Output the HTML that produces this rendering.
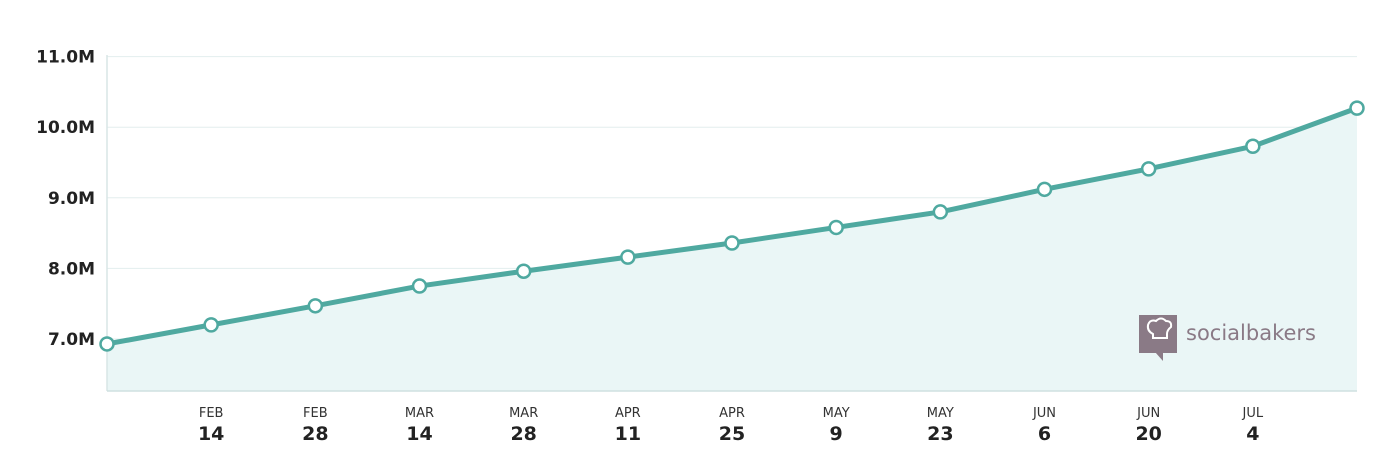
<!DOCTYPE html>
<html><head><meta charset="utf-8"><style>
body{margin:0;background:#fff;width:1400px;height:471px;overflow:hidden}
svg{display:block;font-family:"DejaVu Sans","Liberation Sans",sans-serif}
</style></head><body>
<svg id="chart" width="1400" height="471" viewBox="0 0 1400 471"></svg>
<script>
const values=[6.93,7.20,7.47,7.75,7.96,8.16,8.36,8.58,8.80,9.12,9.41,9.73,10.27];
const tickValues=[7,8,9,10,11];
const tickLabels=["7.0M","8.0M","9.0M","10.0M","11.0M"];
const monthLabels=["FEB","FEB","MAR","MAR","APR","APR","MAY","MAY","JUN","JUN","JUL"];
const dayLabels=["14","28","14","28","11","25","9","23","6","20","4"];
const NS="http://www.w3.org/2000/svg";
const svg=document.getElementById('chart');
const x0=107,x1=1357,bottom=391;
const xs=i=>x0+(x1-x0)*i/(values.length-1);
const ys=v=>339-(v-7)*70.6;
function mk(t,a,p){const e=document.createElementNS(NS,t);for(const k in a)e.setAttribute(k,a[k]);(p||svg).appendChild(e);return e;}
// grid
tickValues.forEach((v,i)=>{
 const g=mk('line',{x1:x0,x2:x1,y1:ys(v),y2:ys(v),stroke:'#e3eeee','stroke-width':1});
 
 
 const t=mk('text',{x:95,y:ys(v)+6,'text-anchor':'end','font-size':17,'font-weight':'bold',fill:'#222'});
 t.textContent=tickLabels[i];
 
 
});
// area
let d='M'+xs(0)+','+bottom;
values.forEach((v,i)=>{d+=' L'+xs(i)+','+ys(v);});
d+=' L'+xs(values.length-1)+','+bottom+' Z';
const area=mk('path',{d:d,fill:'#eaf6f6'});


// axes
const ax=mk('line',{x1:x0,x2:x0,y1:55,y2:bottom,stroke:'#d8e6e6','stroke-width':1.5});


const bx=mk('line',{x1:x0,x2:x1,y1:bottom,y2:bottom,stroke:'#cfe0e0','stroke-width':1.5});


// logo
const logo=mk('g',{});


mk('rect',{x:1139,y:315,width:38,height:38,fill:'#8a7a86'},logo);
mk('path',{d:'M1155,352 L1163,352 L1163,361 Z',fill:'#8a7a86'},logo);
mk('path',{d:'M1148,325 q2,-6 8,-4 q5,-5 10,0 q6,0 5,6 q-4,3 -4,7 v4 h-14 v-4 q-6,-3 -5,-9 Z',fill:'none',stroke:'#fff','stroke-width':2},logo);
const lt=mk('text',{x:1186,y:340,'font-size':21,fill:'#8a7a86'},logo);
lt.textContent='socialbakers';
// line
let ld='';
values.forEach((v,i)=>{ld+=(i?' L':'M')+xs(i)+','+ys(v);});
const line=mk('path',{d:ld,fill:'none',stroke:'#4fa9a0','stroke-width':5,'stroke-linejoin':'round'});


values.forEach((v,i)=>{
 const c=mk('circle',{cx:xs(i),cy:ys(v),r:6.5,fill:'#fff',stroke:'#4fa9a0','stroke-width':2.5});
 
 
});
// x labels
monthLabels.forEach((m,i)=>{
 const x=xs(i+1);
 const t1=mk('text',{x:x,y:417,'text-anchor':'middle','font-size':13,fill:'#333'});
 t1.textContent=m;
 
 
 const t2=mk('text',{x:x,y:440,'text-anchor':'middle','font-size':19,'font-weight':'bold',fill:'#222'});
 t2.textContent=dayLabels[i];
 
 
});
</script>
</body></html>
